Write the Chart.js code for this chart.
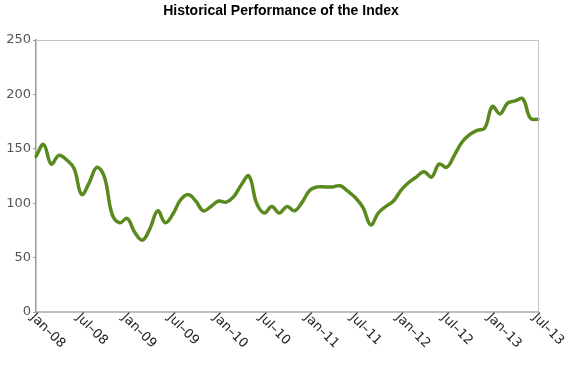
<!DOCTYPE html>
<html>
<head>
<meta charset="utf-8">
<script src="https://cdn.jsdelivr.net/npm/chart.js@4"></script>
<style>
html,body{margin:0;padding:0;background:#fff;}
#wrap{width:570px;height:380px;position:relative;}
</style>
</head>
<body>
<div id="wrap"><canvas id="c" width="570" height="380"></canvas></div>
<script>
const titleText = "Historical Performance of the Index";
const tickLabels = ["Jan\u201308","Jul\u201308","Jan\u201309","Jul\u201309","Jan\u201310","Jul\u201310","Jan\u201311","Jul\u201311","Jan\u201312","Jul\u201312","Jan\u201313","Jul\u201313"];
const monthNames = ["Jan","Feb","Mar","Apr","May","Jun","Jul","Aug","Sep","Oct","Nov","Dec"];
const years = ["08","09","10","11","12","13"];
const indexValues = [
  143,154,136,144,140,132,108,119,133,124,90,82,
  86,73,66,77,93,82,90,103,108,102,93,97,
  102,101,106,117,125,100,91,97,91,97,93,101,
  112,115,115,115,116,111,105,96,80,91,97,102,
  112,119,124,129,124,136,133,144,156,163,167,169,
  189,182,192,194,196,178,177
];
const yTicks = [0,50,100,150,200,250];

const categories = [];
for (let y = 0; y < years.length; y++) {
  for (let m = 0; m < 12; m++) {
    if (categories.length < indexValues.length) categories.push(monthNames[m] + "\u2013" + years[y]);
  }
}

const frame = {
  id: 'frame',
  afterDraw(chart) {
    const ctx = chart.ctx, a = chart.chartArea;
    ctx.save();
    ctx.strokeStyle = '#c4c4c4';
    ctx.lineWidth = 1;
    ctx.beginPath();
    ctx.moveTo(a.left, a.top + 0.5); ctx.lineTo(a.right + 0.5, a.top + 0.5);
    ctx.moveTo(a.right + 0.5, a.top); ctx.lineTo(a.right + 0.5, a.bottom);
    ctx.stroke();
    ctx.strokeStyle = '#aaaaaa';
    ctx.lineWidth = 1.5;
    ctx.beginPath();
    ctx.moveTo(a.left, a.bottom); ctx.lineTo(a.right + 1, a.bottom);
    ctx.stroke();
    // x labels rotated clockwise
    const xs = chart.scales.x;
    ctx.fillStyle = '#222';
    ctx.font = '13px "DejaVu Sans"';
    ctx.textAlign = 'left';
    ctx.textBaseline = 'top';
    tickLabels.forEach(lbl => {
      const idx = categories.indexOf(lbl);
      const px = xs.getPixelForValue(idx);
      ctx.save();
      ctx.translate(px + 1, a.bottom - 1);
      ctx.rotate(Math.PI / 4);
      ctx.fillText(lbl, 0, 0);
      ctx.restore();
    });
    // title
    ctx.fillStyle = '#000';
    ctx.font = 'bold 14px "Liberation Sans", Arial, sans-serif';
    ctx.textAlign = 'center';
    ctx.textBaseline = 'middle';
    ctx.fillText(titleText, 281, 11);
    ctx.restore();
  }
};

new Chart(document.getElementById('c'), {
  type: 'line',
  data: {
    labels: categories,
    datasets: [{
      data: indexValues,
      borderColor: '#5a8a1e',
      borderWidth: 3.5,
      tension: 0.4,
      pointRadius: 0,
      fill: false,
      borderCapStyle: 'round',
      borderJoinStyle: 'round'
    }]
  },
  options: {
    responsive: false,
    animation: false,
    events: [],
    layout: { padding: { top: 40, right: 32, bottom: 68, left: 0 } },
    plugins: { legend: { display: false }, title: { display: false }, tooltip: { enabled: false } },
    scales: {
      x: { display: false },
      y: {
        min: 0, max: 250,
        afterFit(scale) { scale.width = 36; },
        afterBuildTicks(scale) { scale.ticks = yTicks.map(v => ({ value: v })); },
        ticks: { color: '#555', font: { family: 'DejaVu Sans', size: 13 }, padding: 2 },
        grid: { drawOnChartArea: false, tickLength: 3, color: '#999' },
        border: { color: '#999', width: 1.5 }
      }
    }
  },
  plugins: [frame]
});
</script>
</body>
</html>
